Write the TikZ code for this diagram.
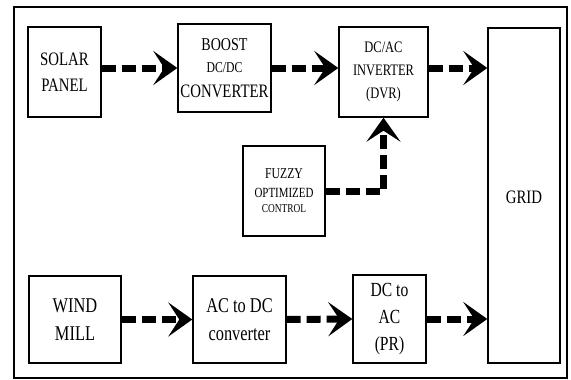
\documentclass[tikz,border=0pt]{standalone}
\usepackage{fontspec}
\setmainfont{Liberation Serif}[FakeStretch=0.78]
\usetikzlibrary{arrows.meta}
\begin{document}
\begin{tikzpicture}[x=1pt,y=-1pt,
  blk/.style={draw, line width=1.4pt, inner sep=0pt, align=center},
  flow/.style={line width=7pt, dash pattern=on 14pt off 6pt,
    -{Stealth[length=24pt 0 0, width=34pt 0 0, inset=11pt 0 0]}},
  fa/.style={font=\fontsize{19}{26}\selectfont},
  fb/.style={font=\fontsize{16}{23}\selectfont},
  fd/.style={font=\fontsize{21}{28}\selectfont}]
\useasboundingbox (0,0) rectangle (571,380);
\draw[line width=2pt] (14,7) rectangle (567,378);
\node[blk, fa, minimum width=73pt, minimum height=90pt] (solar) at (64.5,72) {SOLAR\\PANEL};
\node[blk, font=\fontsize{18}{22}\selectfont, minimum width=93pt, minimum height=88pt] (boost) at (224.5,68)
  {BOOST\\{\fontsize{15}{22}\selectfont DC/DC}\\[3pt]{\fontsize{19}{22}\selectfont CONVERTER}};
\node[blk, fb, minimum width=89pt, minimum height=90pt] (inv) at (383.5,72) {DC/AC\\INVERTER\\(DVR)};
\node[blk, minimum width=72pt, minimum height=335pt] (grid) at (524,195.5) {};
\node[fa] (gridtxt) at (524,197) {GRID};
\node[blk, font=\fontsize{15}{19}\selectfont, minimum width=82pt, minimum height=90pt] (fuzzy) at (284,191)
  {FUZZY\\{\fontsize{14}{19}\selectfont OPTIMIZED}\\[-4pt]{\fontsize{12}{19}\selectfont CONTROL}};
\node[blk, fd, minimum width=92pt, minimum height=87pt] (wind) at (75,319.5) {WIND\\MILL};
\node[blk, fd, minimum width=93pt, minimum height=87pt] (acdc) at (239.5,319.5) {AC to DC\\converter};
\node[blk, font=\fontsize{20}{27}\selectfont, minimum width=73pt, minimum height=88pt] (dcac) at (389.5,319) {DC to\\AC\\(PR)};
\draw[flow] (solar.east |- boost.west) -- (boost.west);
\draw[flow] (boost.east) -- (inv.west |- boost.east);
\draw[flow] (inv.east |- boost.east) -- (grid.west |- boost.east);
\draw[flow] (fuzzy.east) -- (fuzzy.east -| inv.south) -- (inv.south);
\draw[flow] (wind.east) -- (acdc.west);
\draw[flow] (acdc.east) -- (dcac.west);
\draw[flow] (dcac.east) -- (grid.west |- dcac.east);
\end{tikzpicture}
\end{document}
